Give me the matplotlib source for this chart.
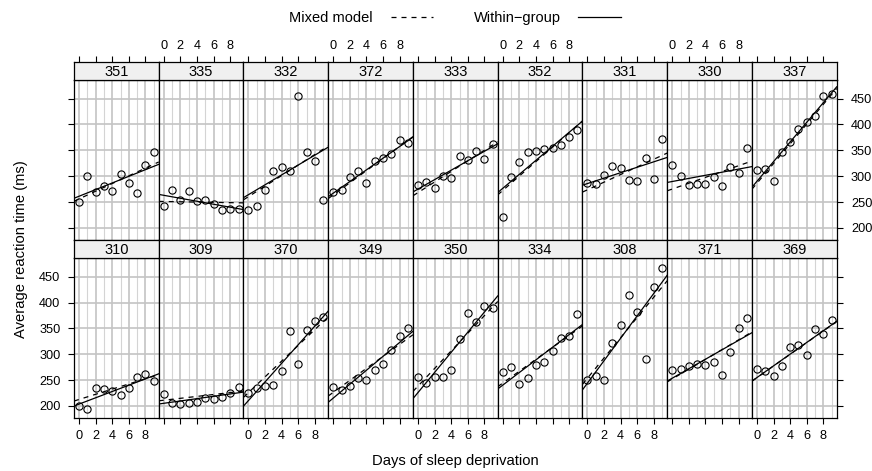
import numpy as np
import matplotlib
matplotlib.use("Agg")
import matplotlib.pyplot as plt
from matplotlib.lines import Line2D

plt.rcParams['font.family'] = ['Liberation Sans', 'DejaVu Sans']

# ---------------- data ----------------
days = [0, 1, 2, 3, 4, 5, 6, 7, 8, 9]
panel_order = ["351", "335", "332", "372", "333", "352", "331", "330", "337",
               "310", "309", "370", "349", "350", "334", "308", "371", "369"]

r308 = [249.6, 258.7, 250.8, 321.4, 356.9, 414.7, 382.2, 290.1, 430.6, 466.4]
r309 = [222.7, 205.3, 203.0, 204.7, 207.7, 216.0, 213.6, 217.7, 224.3, 237.3]
r310 = [199.1, 194.3, 234.3, 232.8, 229.3, 220.5, 235.4, 255.8, 261.0, 247.5]
r330 = [321.5, 300.4, 283.9, 285.1, 285.8, 297.6, 280.2, 318.3, 305.3, 354.0]
r331 = [287.6, 285.0, 301.8, 320.1, 316.3, 293.3, 290.1, 334.8, 293.7, 371.6]
r332 = [234.9, 242.8, 273.0, 309.8, 317.5, 310.0, 454.2, 346.8, 330.3, 253.9]
r333 = [283.8, 289.6, 276.8, 299.8, 297.2, 338.2, 332.0, 348.8, 333.4, 362.0]
r334 = [265.5, 276.2, 243.4, 254.7, 279.0, 284.2, 305.5, 331.5, 335.7, 377.3]
r335 = [241.6, 273.9, 254.5, 270.8, 251.5, 254.6, 245.5, 235.3, 235.8, 237.2]
r337 = [312.4, 313.8, 291.6, 346.1, 365.7, 391.8, 404.3, 416.7, 455.9, 458.9]
r349 = [236.1, 230.3, 238.9, 254.9, 250.7, 269.8, 281.6, 308.1, 336.3, 351.6]
r350 = [256.3, 243.5, 256.2, 255.5, 268.9, 329.7, 379.4, 362.9, 394.5, 389.1]
r351 = [250.5, 300.1, 269.9, 280.6, 271.8, 304.6, 287.7, 266.6, 321.5, 347.6]
r352 = [221.7, 298.2, 326.9, 346.9, 348.7, 352.8, 354.4, 360.4, 375.6, 388.5]
r369 = [271.9, 268.4, 257.2, 277.7, 314.8, 317.2, 298.1, 348.1, 340.3, 366.5]
r370 = [225.3, 234.5, 238.9, 240.5, 267.5, 344.2, 281.1, 347.6, 365.2, 372.2]
r371 = [269.9, 272.4, 277.9, 281.8, 279.2, 284.5, 259.3, 304.6, 350.8, 369.5]
r372 = [269.4, 273.5, 297.6, 310.6, 287.2, 329.6, 334.5, 343.2, 369.1, 364.1]

reaction = {"308": r308, "309": r309, "310": r310, "330": r330, "331": r331,
            "332": r332, "333": r333, "334": r334, "335": r335, "337": r337,
            "349": r349, "350": r350, "351": r351, "352": r352, "369": r369,
            "370": r370, "371": r371, "372": r372}

# mixed-model (BLUP) subject-specific coefficients
mm_subjects = ["308", "309", "310", "330", "331", "332", "333", "334", "335",
               "337", "349", "350", "351", "352", "369", "370", "371", "372"]
mm_intercept = [253.66, 211.01, 212.44, 275.10, 273.67, 260.44, 268.25, 244.17, 251.07,
                286.30, 226.19, 238.34, 255.98, 272.27, 254.68, 225.79, 252.21, 263.72]
mm_slope = [19.67, 1.85, 5.02, 5.65, 7.40, 10.20, 10.24, 11.54, -0.28,
            19.10, 11.64, 17.08, 7.45, 14.00, 11.34, 15.29, 9.48, 11.75]

x_ticks = [0, 2, 4, 6, 8]
y_ticks = [200, 250, 300, 350, 400, 450]
legend_labels = ["Mixed model", "Within\u2212group"]
xlabel = "Days of sleep deprivation"
ylabel = "Average reaction time (ms)"

# ---------------- layout ----------------
W, H = 872, 471
fig = plt.figure(figsize=(W / 100, H / 100), dpi=100)
left_px, right_px = 74.0, 836.7
colw = (right_px - left_px) / 9
rows = [(62.3, 80.0, 240.3), (240.3, 258.3, 418.3)]  # strip top, panel top, panel bottom
xlim = (-0.6, 9.6)
ylim = (176, 486)

def fax(x0, top, w, h):
    return fig.add_axes([x0 / W, 1 - (top + h) / H, w / W, h / H])

TICK = dict(direction='out', length=4.3, width=0.8, labelsize=9.2, colors='black')
dash = (0, (4, 4))

for idx, subj in enumerate(panel_order):
    r, c = divmod(idx, 9)
    s_top, p_top, p_bot = rows[r]
    x0 = left_px + c * colw
    ax = fax(x0, p_top, colw, p_bot - p_top)
    st = fax(x0, s_top, colw, p_top - s_top)

    # strip
    st.set_facecolor('#f0f0f0')
    st.set_xlim(xlim)
    st.set_ylim(0, 1)
    st.text(0.5, 0.47, subj, transform=st.transAxes, ha='center', va='center', fontsize=10.5)
    st.set_yticks([])
    for sp in st.spines.values():
        sp.set_linewidth(0.9)
    if r == 0:
        st.set_xticks(x_ticks)
        st.xaxis.set_ticks_position('top')
        st.tick_params(axis='x', pad=3, **TICK)
        if c % 2 == 1:
            st.set_xticklabels([str(t) for t in x_ticks])
        else:
            st.set_xticklabels([])
    else:
        st.set_xticks([])

    # panel
    ax.set_xlim(xlim)
    ax.set_ylim(ylim)
    for d in days:
        ax.axvline(d, color='#c4c4c4' if d % 2 == 0 else '#d4d4d4',
                   lw=1.2 if d % 2 == 0 else 0.8, zorder=0)
    for yv in y_ticks:
        ax.axhline(yv, color='#c4c4c4', lw=1.2, zorder=0)

    vals = reaction[subj]
    ax.plot(days, vals, 'o', ms=5.2, mfc='none', mec='black', mew=0.8, zorder=3)

    xs = np.array(xlim)
    b, a = np.polyfit(days, vals, 1)
    ax.plot(xs, a + b * xs, color='black', lw=0.9, zorder=2)
    k = mm_subjects.index(subj)
    ax.plot(xs, mm_intercept[k] + mm_slope[k] * xs, color='black', lw=0.9,
            linestyle=dash, zorder=2)

    for sp in ax.spines.values():
        sp.set_linewidth(0.9)

    # x ticks
    if r == 1:
        ax.set_xticks(x_ticks)
        ax.tick_params(axis='x', pad=4, **TICK)
        if c % 2 == 0:
            ax.set_xticklabels([str(t) for t in x_ticks])
        else:
            ax.set_xticklabels([])
    else:
        ax.set_xticks([])

    # y ticks
    if c == 0:
        ax.set_yticks(y_ticks)
        ax.yaxis.set_ticks_position('left')
        ax.tick_params(axis='y', pad=5.5, **TICK)
        if r == 1:
            ax.set_yticklabels([str(t) for t in y_ticks])
        else:
            ax.set_yticklabels([])
    elif c == 8:
        ax.set_yticks(y_ticks)
        ax.yaxis.set_ticks_position('right')
        ax.tick_params(axis='y', pad=6, **TICK)
        if r == 0:
            ax.set_yticklabels([str(t) for t in y_ticks])
        else:
            ax.set_yticklabels([])
    else:
        ax.set_yticks([])

# axis labels
fig.text(455 / W, 1 - 461 / H, xlabel, ha='center', va='center', fontsize=10.6)
fig.text(21 / W, 1 - 249 / H, ylabel, ha='center', va='center', rotation=90, fontsize=10.6)

# legend
handles = [Line2D([], [], color='black', lw=0.9, linestyle=dash),
           Line2D([], [], color='black', lw=0.9)]
fig.legend(handles, legend_labels, ncol=2, markerfirst=False, frameon=False,
           loc='center', bbox_to_anchor=(455 / W, 1 - 18 / H), fontsize=10.5,
           handlelength=2.9, handletextpad=1.2, columnspacing=2.8)

fig.savefig('out.png', dpi=100)
